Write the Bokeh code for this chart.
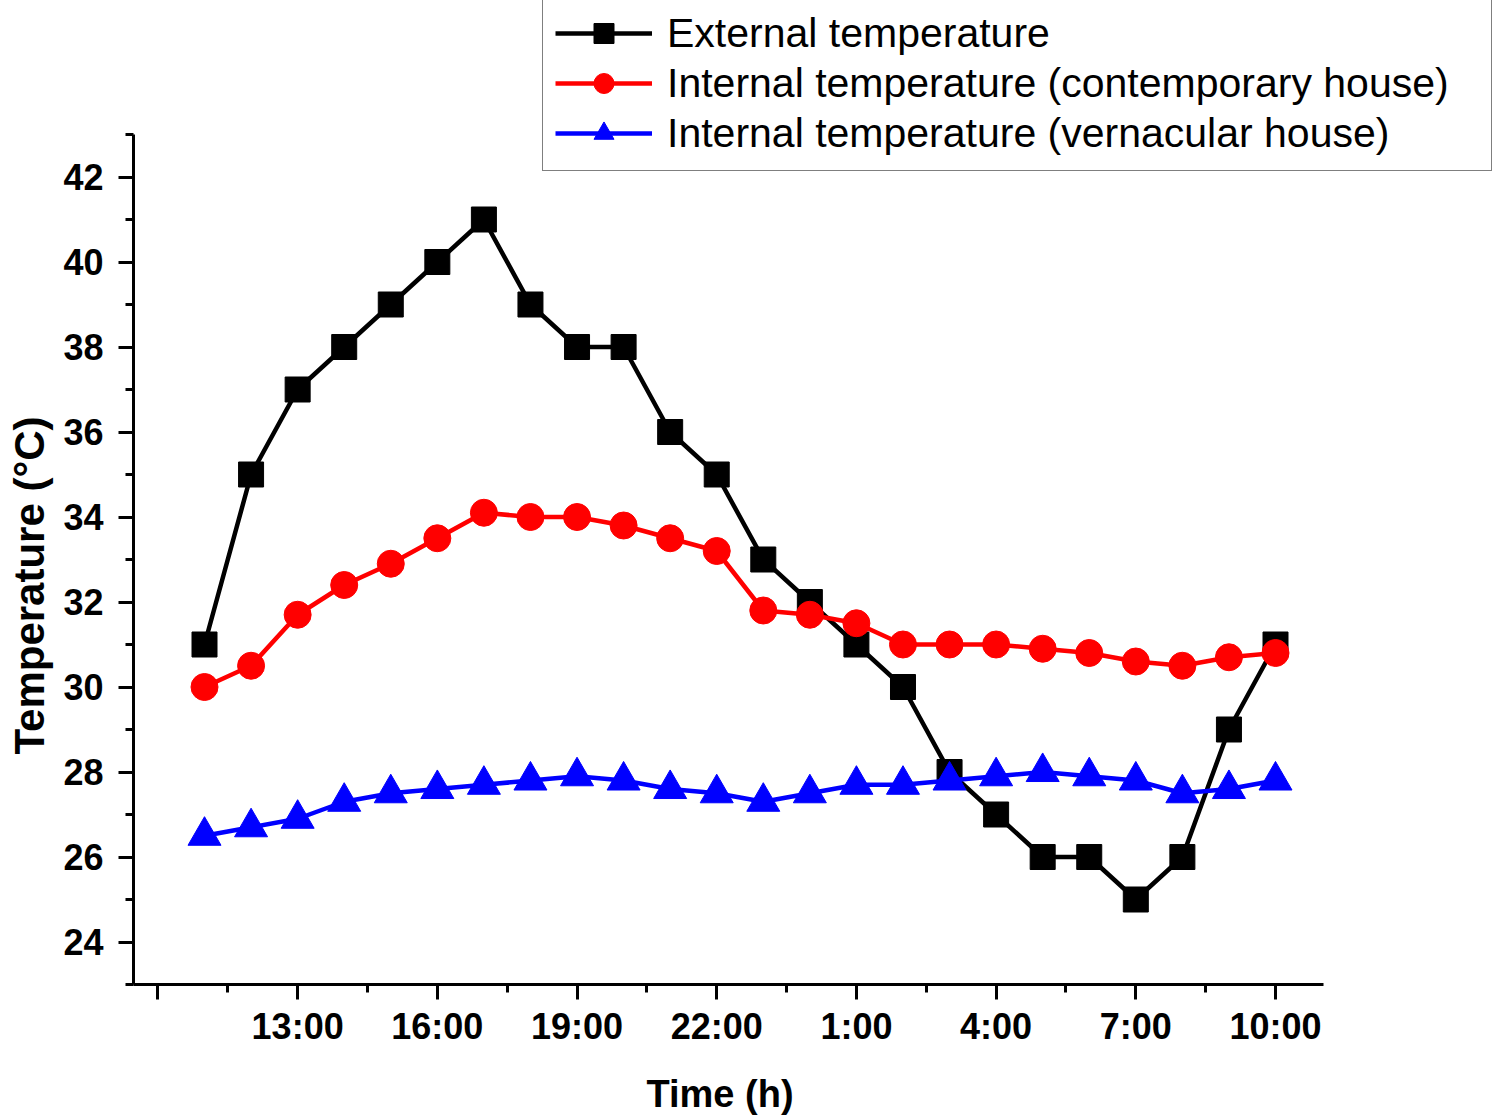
from bokeh.plotting import figure
from bokeh.models import FixedTicker, Legend, LegendItem, Range1d, Title
from bokeh.embed import file_html
from bokeh.resources import INLINE

hours = list(range(11, 35))
external = [31, 35, 37, 38, 39, 40, 41, 39, 38, 38, 36, 35, 33, 32, 31, 30, 28, 27, 26, 26, 25, 26, 29, 31]
contemporary = [30.0, 30.5, 31.7, 32.4, 32.9, 33.5, 34.1, 34.0, 34.0, 33.8, 33.5, 33.2, 31.8, 31.7, 31.5, 31.0, 31.0, 31.0, 30.9, 30.8, 30.6, 30.5, 30.7, 30.8]
vernacular = [26.5, 26.7, 26.9, 27.3, 27.5, 27.6, 27.7, 27.8, 27.9, 27.8, 27.6, 27.5, 27.3, 27.5, 27.7, 27.7, 27.8, 27.9, 28.0, 27.9, 27.8, 27.5, 27.6, 27.8]

x_ticks = [10, 13, 16, 19, 22, 25, 28, 31, 34]
x_tick_labels = ["", "13:00", "16:00", "19:00", "22:00", "1:00", "4:00", "7:00", "10:00"]
x_minor = [11.5, 14.5, 17.5, 20.5, 23.5, 26.5, 29.5, 32.5]
y_ticks = [24, 26, 28, 30, 32, 34, 36, 38, 40, 42]
y_minor = [23, 25, 27, 29, 31, 33, 35, 37, 39, 41, 43]

FONT = "Liberation Sans"

# axis extents (data units)
X0, X1 = 9.475, 35.03
Y0, Y1 = 23.0, 43.0
PX_PER_H = 46.565
PX_PER_DEG = 42.5
FRAME_W = 1361
FRAME_H = 984

p = figure(output_backend="svg", toolbar_location=None,
           frame_width=FRAME_W, frame_height=FRAME_H,
           min_border_left=125, min_border_right=0,
           min_border_top=0, min_border_bottom=120,
           x_range=Range1d(X0, X0 + FRAME_W / PX_PER_H),
           y_range=Range1d(Y0, Y0 + FRAME_H / PX_PER_DEG))

p.outline_line_color = None
p.xgrid.visible = False
p.ygrid.visible = False

for ax in (p.xaxis[0], p.yaxis[0]):
    ax.axis_line_width = 3
    ax.axis_line_color = "black"
    ax.major_tick_line_width = 3
    ax.minor_tick_line_width = 3
    ax.major_tick_line_color = "black"
    ax.minor_tick_line_color = "black"
    ax.major_tick_out = 15
    ax.major_tick_in = 0
    ax.minor_tick_out = 8
    ax.minor_tick_in = 0
    ax.major_label_text_font = FONT
    ax.major_label_text_font_style = "bold"
    ax.major_label_text_font_size = "36px"
    ax.major_label_text_color = "black"

p.xaxis[0].bounds = (X0, X1)
p.xaxis[0].ticker = FixedTicker(ticks=x_ticks, minor_ticks=x_minor)
p.xaxis[0].major_label_overrides = {t: l for t, l in zip(x_ticks, x_tick_labels)}
p.xaxis[0].major_label_standoff = 6

p.yaxis[0].bounds = (Y0, Y1)
p.yaxis[0].ticker = FixedTicker(ticks=y_ticks, minor_ticks=y_minor)
p.yaxis[0].major_label_standoff = 15

# axis titles, placed along the bounded axis lines
x_title = Title(text="Time (h)", align="left", offset=513, vertical_align="top",
                standoff=46, text_font=FONT, text_font_size="38px",
                text_font_style="bold", text_color="black")
p.add_layout(x_title, "below")
y_title = Title(text="Temperature (°C)", align="left", offset=230, vertical_align="top",
                standoff=11, text_font=FONT, text_font_size="42px",
                text_font_style="bold", text_color="black")
p.add_layout(y_title, "left")

lw = 4.5
l1 = p.line(hours, external, line_color="black", line_width=lw)
s1 = p.scatter(hours, external, marker="square", size=25, fill_color="black", line_color="black")
l2 = p.line(hours, contemporary, line_color="#FF0000", line_width=lw)
s2 = p.scatter(hours, contemporary, marker="circle", size=27, fill_color="#FF0000", line_color="#FF0000")
l3 = p.line(hours, vernacular, line_color="#0000FF", line_width=lw)
s3 = p.scatter(hours, vernacular, marker="triangle", size=33, fill_color="#0000FF", line_color="#0000FF")

legend = Legend(items=[
    LegendItem(label="External temperature", renderers=[l1, s1]),
    LegendItem(label="Internal temperature (contemporary house)", renderers=[l2, s2]),
    LegendItem(label="Internal temperature (vernacular house)", renderers=[l3, s3]),
], location=(409, 813))
legend.label_text_font = FONT
legend.label_text_font_size = "41px"
legend.label_text_color = "black"
legend.glyph_width = 97
legend.glyph_height = 50
legend.label_height = 50
legend.label_width = 812
legend.spacing = 0
legend.padding = 12
legend.margin = 0
legend.label_standoff = 15
legend.border_line_color = "black"
legend.border_line_width = 1.5
legend.background_fill_color = "white"
legend.background_fill_alpha = 1.0
p.add_layout(legend, "center")

open("out.html", "w").write(file_html(p, INLINE))
